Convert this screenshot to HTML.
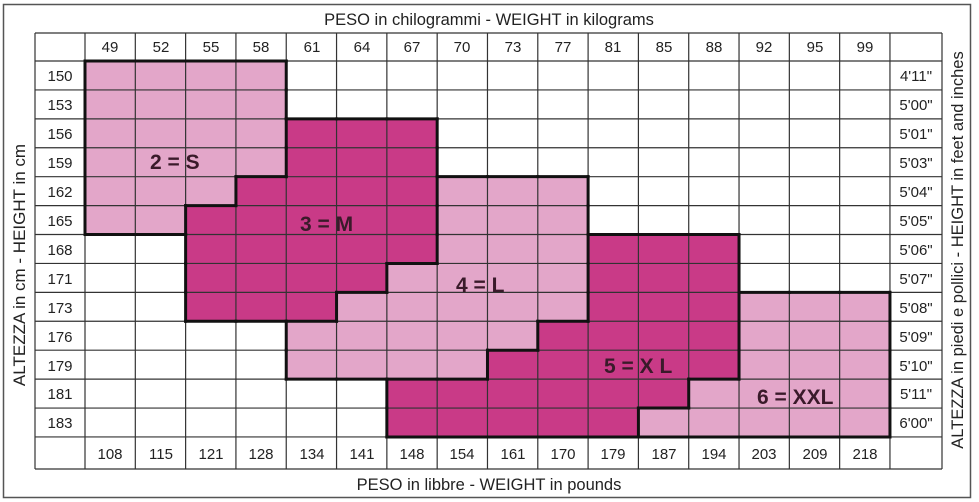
<!DOCTYPE html>
<html><head><meta charset="utf-8"><style>
body{margin:0;background:#fff;width:979px;height:502px;overflow:hidden}
svg{position:absolute;left:0;top:0}
text{font-family:"Liberation Sans",sans-serif;fill:#222}
</style></head><body>
<svg id="s" width="979" height="502" xmlns="http://www.w3.org/2000/svg">
<rect x="3.5" y="4.5" width="967" height="493" fill="none" stroke="#555" stroke-width="1.5"/>
<g id="cells"></g>
<g id="thin"></g>
<g id="thick"></g>
<g font-size="16.5" text-anchor="middle">
<text x="489" y="25">PESO in chilogrammi - WEIGHT in kilograms</text>
<text x="489" y="490">PESO in libbre -  WEIGHT in pounds</text>
<text transform="translate(25,265) rotate(-90)" font-size="17">ALTEZZA in cm  -  HEIGHT in cm</text>
<text transform="translate(963,250) rotate(-90)" font-size="16.5">ALTEZZA in piedi e pollici - HEIGHT in feet and inches</text>
</g>
<g font-size="15" text-anchor="middle" id="top">
<text x="110" y="52">49</text><text x="161" y="52">52</text><text x="211" y="52">55</text><text x="261" y="52">58</text><text x="312" y="52">61</text><text x="362" y="52">64</text><text x="412" y="52">67</text><text x="462" y="52">70</text><text x="513" y="52">73</text><text x="563" y="52">77</text><text x="613" y="52">81</text><text x="664" y="52">85</text><text x="714" y="52">88</text><text x="764" y="52">92</text><text x="815" y="52">95</text><text x="865" y="52">99</text>
</g>
<g font-size="15" text-anchor="middle">
<text x="110" y="459">108</text><text x="161" y="459">115</text><text x="211" y="459">121</text><text x="261" y="459">128</text><text x="312" y="459">134</text><text x="362" y="459">141</text><text x="412" y="459">148</text><text x="462" y="459">154</text><text x="513" y="459">161</text><text x="563" y="459">170</text><text x="613" y="459">179</text><text x="664" y="459">187</text><text x="714" y="459">194</text><text x="764" y="459">203</text><text x="815" y="459">209</text><text x="865" y="459">218</text>
</g>
<g font-size="15" text-anchor="middle">
<text x="60" y="81">150</text><text x="60" y="110">153</text><text x="60" y="139">156</text><text x="60" y="168">159</text><text x="60" y="197">162</text><text x="60" y="226">165</text><text x="60" y="255">168</text><text x="60" y="284">171</text><text x="60" y="313">173</text><text x="60" y="342">176</text><text x="60" y="371">179</text><text x="60" y="399">181</text><text x="60" y="428">183</text>
<text x="916" y="81">4'11"</text><text x="916" y="110">5'00"</text><text x="916" y="139">5'01"</text><text x="916" y="168">5'03"</text><text x="916" y="197">5'04"</text><text x="916" y="226">5'05"</text><text x="916" y="255">5'06"</text><text x="916" y="284">5'07"</text><text x="916" y="313">5'08"</text><text x="916" y="342">5'09"</text><text x="916" y="371">5'10"</text><text x="916" y="399">5'11"</text><text x="916" y="428">6'00"</text>
</g>
<g font-size="21" font-weight="bold">
<text x="150" y="169" style="fill:#3a1a2a">2 = S</text>
<text x="300" y="231" style="fill:#3a1a2a">3 = M</text>
<text x="456" y="292" style="fill:#3a1a2a">4 = L</text>
<text x="604" y="373" style="fill:#3a1a2a">5 = X L</text>
<text x="757" y="404" style="fill:#3a1a2a">6 = XXL</text>
</g>
</svg>
<script>
var X0=85,CW=50.31,Y0=61,RH=28.92;
var g=[];for(var r=0;r<13;r++){g.push([]);for(var c=0;c<16;c++)g[r].push(0);}
function f(r,a,b,v){for(var c=a;c<=b;c++)g[r][c]=v;}
for(r=0;r<4;r++)f(r,0,3,1);f(4,0,2,1);f(5,0,1,1);
f(2,4,6,2);f(3,4,6,2);f(4,3,6,2);f(5,2,6,2);f(6,2,6,2);f(7,2,5,2);f(8,2,4,2);
f(4,7,9,3);f(5,7,9,3);f(6,7,9,3);f(7,6,9,3);f(8,5,9,3);f(9,4,8,3);f(10,4,7,3);
f(6,10,12,4);f(7,10,12,4);f(8,10,12,4);f(9,9,12,4);f(10,8,12,4);f(11,6,11,4);f(12,6,10,4);
f(8,13,15,5);f(9,13,15,5);f(10,13,15,5);f(11,12,15,5);f(12,11,15,5);
var col=['#fff','#e3a6c9','#c93a87','#e3a6c9','#c93a87','#e3a6c9'];
var ns='http://www.w3.org/2000/svg';
function el(p,t,a){var e=document.createElementNS(ns,t);for(var k in a)e.setAttribute(k,a[k]);document.getElementById(p).appendChild(e);}
for(r=0;r<13;r++)for(c=0;c<16;c++)if(g[r][c])el('cells','rect',{x:X0+c*CW,y:Y0+r*RH,width:CW+0.5,height:RH+0.5,fill:col[g[r][c]]});
var st={stroke:'#333','stroke-width':1.2};
function L(p,x1,y1,x2,y2,s){var a={x1:x1,y1:y1,x2:x2,y2:y2};for(var k in s)a[k]=s[k];el(p,'line',a);}
var gx=[35],gy=[33];for(c=0;c<=16;c++)gx.push(X0+c*CW);gx.push(942);
for(r=0;r<=13;r++)gy.push(Y0+r*RH);gy.push(469);
gx.forEach(function(x){L('thin',x,33,x,469,st);});
gy.forEach(function(y){L('thin',35,y,942,y,st);});
var tk={stroke:'#111','stroke-width':3,'stroke-linecap':'square'};
function v(r,c){return (r<0||r>12||c<0||c>15)?0:g[r][c];}
for(r=0;r<=13;r++)for(c=0;c<16;c++){if(v(r-1,c)!=v(r,c)&&(v(r-1,c)||v(r,c)))L('thick',X0+c*CW,Y0+r*RH,X0+(c+1)*CW,Y0+r*RH,tk);}
for(r=0;r<13;r++)for(c=0;c<=16;c++){if(v(r,c-1)!=v(r,c)&&(v(r,c-1)||v(r,c)))L('thick',X0+c*CW,Y0+r*RH,X0+c*CW,Y0+(r+1)*RH,tk);}
</script>
</body></html>
